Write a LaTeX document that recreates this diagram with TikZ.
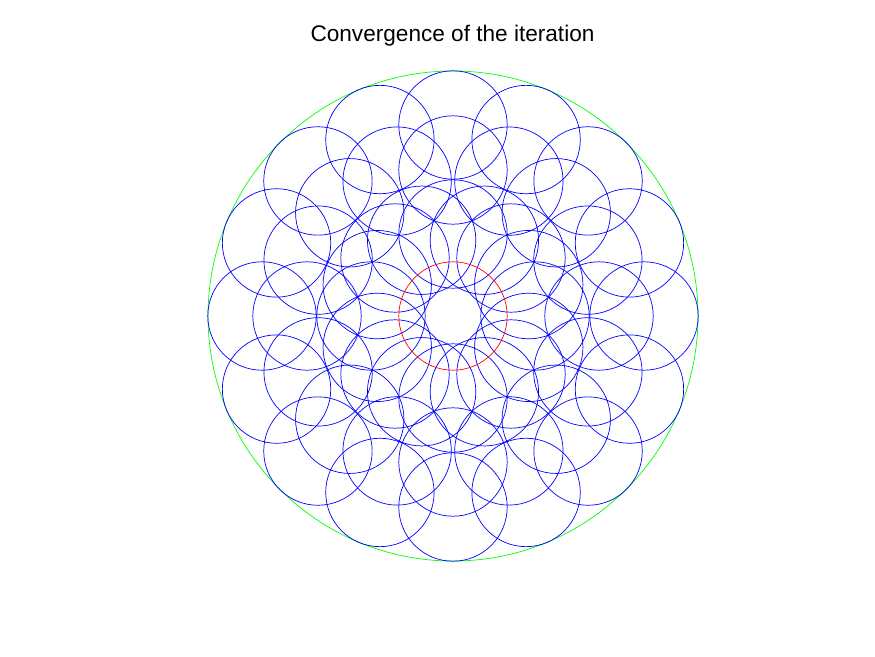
\documentclass[tikz,border=0pt]{standalone}
\usepackage{fontspec}
\setmainfont{Liberation Sans}
\usetikzlibrary{calc}
\begin{document}
\begin{tikzpicture}[x=1pt,y=-1pt,
  bluecirc/.style={draw={rgb,255:red,0;green,0;blue,255},line width=0.7pt},
  redcirc/.style={draw={rgb,255:red,255;green,0;blue,0},line width=0.7pt},
  greencirc/.style={draw={rgb,255:red,0;green,255;blue,0},line width=0.7pt}]
\useasboundingbox[fill=white] (0,0) rectangle (875,656);
\coordinate (c) at (453,316);
\draw[greencirc] (c) circle[radius=245];
\foreach \d in {82,146,191}{
  \foreach \k in {0,...,15}{
    \draw[bluecirc] ($(c)+({\d*cos(22.5*\k)},{\d*sin(22.5*\k)})$) circle[radius=54.2];
  }
}
\draw[redcirc] (c) circle[radius=54.2];
\node[anchor=base,font=\fontsize{22.6}{26}\selectfont,inner sep=0pt] (title) at (452.5,41.7) {Convergence of the iteration};
\end{tikzpicture}
\end{document}
